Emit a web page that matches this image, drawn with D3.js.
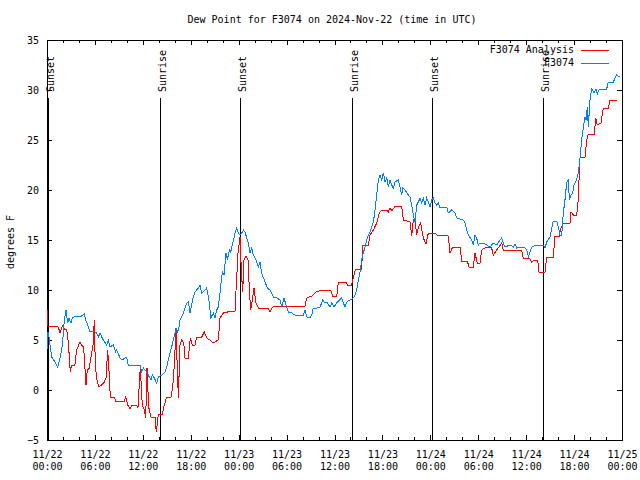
<!DOCTYPE html>
<html><head><meta charset="utf-8">
<script src="https://cdn.jsdelivr.net/npm/d3@7"></script>
<style>
body{margin:0;background:#fff}
svg{display:block}
text{font-family:"DejaVu Sans Mono",monospace;font-size:10px;fill:#000}
</style>
</head><body>
<svg id="c" width="640" height="480"></svg>
<script>
// ---------- data ----------
const titleText = "Dew Point for F3074 on 2024-Nov-22 (time in UTC)";
const yLabelText = "degrees F";
const startTime = "2024-11-22T00:00:00Z";
const endTime = "2024-11-25T00:00:00Z";
const yTickValues = [-5, 0, 5, 10, 15, 20, 25, 30, 35];
const seriesNames = ["F3074 Analysis", "F3074"];

// [hours since 2024-11-22 00:00 UTC, dew point °F]
const analysisData = [
[0,8.0],[0.08,6.4],[1.42,6.3],[1.63,5.7],[1.92,6.4],[2.17,6.1],[2.46,6.1],[2.67,4.8],[2.92,1.8],[3.09,2.5],
[3.5,2.5],[3.71,4.0],[3.92,4.4],[4.13,4.8],[4.34,4.5],[4.59,4.3],[4.88,0.5],[5.05,2.0],[5.3,2.2],[5.51,3.3],
[5.76,4.5],[5.93,7.0],[6.05,2.3],[6.26,1.0],[6.51,0.3],[6.85,0.5],[7.18,0.8],[7.39,1.2],[7.6,4.0],[7.76,2.0],
[7.93,-0.7],[8.43,-0.7],[8.6,-1.1],[9.68,-1.1],[9.85,-0.7],[10.1,-1.5],[10.39,-1.9],[10.68,-1.5],[11.23,-1.5],[11.39,-1.8],
[11.68,2.3],[11.93,-1.5],[12.15,-1.9],[12.36,-2.8],[12.52,2.2],[12.73,-1.7],[13.02,-2.7],[13.52,-2.7],[13.69,-4.2],[13.94,-2.4],
[14.44,-2.4],[14.69,-1.5],[14.99,-0.7],[15.53,-0.7],[15.74,0.3],[15.94,2.5],[16.15,6.0],[16.32,2.0],[16.45,-0.8],[16.65,4.5],
[16.87,5.0],[17.12,4.7],[17.28,3.2],[17.7,3.2],[17.95,5.2],[18.2,4.5],[18.53,4.5],[18.74,5.3],[19.37,5.3],[19.7,5.8],
[20.0,5.2],[20.41,5.0],[20.83,4.7],[21.45,5.0],[21.66,7.2],[22.08,7.7],[23.12,7.9],[23.54,7.9],[23.67,10.0],[23.92,13.7],
[24.17,15.3],[24.33,12.0],[24.5,9.8],[24.67,13.0],[24.92,13.4],[25.17,13.0],[25.34,10.0],[25.5,8.0],[25.71,9.0],[25.92,10.2],
[26.17,8.7],[26.46,8.2],[27.71,8.2],[27.92,7.8],[28.26,8.3],[28.76,8.4],[32.31,8.4],[32.52,9.2],[33.15,9.4],[33.68,9.8],
[34.52,10.0],[35.52,10.0],[35.77,9.4],[36.28,9.4],[36.48,10.8],[37.44,10.8],[37.6,10.5],[38.15,10.5],[38.36,11.3],[38.65,12.1],
[39.4,12.1],[39.53,14.5],[40.24,14.5],[40.45,15.5],[40.87,16.0],[41.28,16.7],[41.62,17.7],[41.91,18.0],[42.54,18.0],[42.74,17.8],
[42.95,18.2],[43.2,17.9],[43.58,18.4],[44.41,18.4],[44.62,17.0],[45.45,16.8],[45.67,15.4],[45.87,17.0],[46.12,16.8],[46.29,15.5],
[46.5,16.3],[46.79,16.7],[47.12,15.2],[47.46,14.6],[47.75,15.7],[48.59,15.7],[48.8,15.5],[50.25,15.4],[50.46,13.7],[50.8,14.3],
[51.72,14.3],[51.93,12.9],[52.63,12.9],[52.84,12.3],[53.38,12.3],[53.59,13.7],[53.88,12.7],[54.22,12.7],[54.43,14.0],[55.06,14.3],
[55.68,14.2],[55.89,13.5],[56.31,14.0],[56.94,14.7],[57.14,13.9],[57.56,14.0],[59.44,13.9],[59.64,13.2],[60.39,13.2],[60.69,12.8],
[60.98,13.0],[61.44,13.0],[61.61,11.8],[62.36,11.8],[62.57,13.3],[63.4,13.3],[63.61,15.4],[64.15,15.4],[64.32,16.1],[64.65,16.7],
[65.49,16.7],[65.62,17.8],[65.91,17.5],[66.33,17.5],[66.49,18.7],[66.74,23.2],[67.37,23.3],[67.58,25.0],[67.78,25.6],[68.53,25.6],
[68.71,27.2],[68.91,26.5],[69.37,26.7],[69.66,28.2],[70.29,28.2],[70.5,29.0],[71.34,29.0]
];

const stationData = [
[0,4.0],[0.05,5.8],[0.17,5.8],[0.58,3.3],[1.0,2.8],[1.34,2.3],[1.63,3.2],[1.84,4.0],[2.05,5.7],[2.17,7.0],
[2.38,8.0],[2.59,6.7],[2.75,7.2],[3.0,6.7],[3.17,7.2],[3.42,7.3],[3.92,7.4],[4.34,7.4],[4.67,7.6],[4.84,7.0],
[5.09,6.5],[5.38,5.8],[5.8,5.9],[6.22,5.7],[6.43,5.3],[6.64,5.7],[6.85,5.3],[7.05,5.0],[7.47,4.5],[7.68,5.0],
[7.89,4.3],[8.3,4.5],[8.6,3.8],[8.73,4.0],[9.14,3.2],[9.43,3.0],[9.77,3.2],[9.98,3.3],[10.18,2.5],[10.81,2.4],
[11.65,2.5],[11.86,1.8],[12.06,2.2],[12.48,1.8],[12.68,1.5],[13.02,1.0],[13.19,1.5],[13.44,1.2],[13.73,0.7],[13.94,1.3],
[14.44,1.5],[14.78,1.8],[14.99,2.3],[15.19,3.0],[15.4,3.7],[15.61,4.3],[15.82,5.0],[16.03,5.7],[16.15,6.2],[16.36,5.8],
[16.53,6.3],[16.65,7.0],[17.07,7.7],[17.28,8.2],[17.49,8.7],[17.7,8.8],[17.91,7.7],[18.12,8.5],[18.32,9.3],[18.53,9.8],
[18.95,10.2],[19.16,10.5],[19.37,9.7],[19.79,10.0],[20.0,10.2],[20.33,8.7],[20.5,7.2],[20.83,7.7],[21.04,7.2],[21.25,8.0],
[21.45,8.3],[21.66,9.7],[21.87,11.3],[21.99,11.8],[22.16,11.5],[22.41,13.7],[22.58,13.0],[22.83,14.0],[23.0,13.8],[23.25,14.7],
[23.42,15.2],[23.54,15.7],[23.75,16.2],[23.96,15.7],[24.17,15.5],[24.38,15.7],[24.59,16.0],[24.8,15.8],[25.01,15.2],[25.21,14.7],
[25.42,13.7],[25.63,14.2],[25.84,13.5],[26.17,13.0],[26.46,12.3],[26.67,12.8],[26.88,11.7],[27.3,10.8],[27.59,10.2],[27.92,10.0],
[28.34,9.3],[28.76,9.2],[29.18,9.0],[29.39,8.3],[29.68,9.2],[29.93,8.5],[30.22,7.8],[30.64,7.7],[31.05,7.5],[32.1,7.5],
[32.31,8.0],[32.52,7.3],[32.93,7.2],[33.15,7.5],[33.35,8.2],[33.77,8.2],[34.19,8.3],[34.52,9.0],[34.81,8.7],[35.02,8.8],
[35.44,8.3],[35.65,8.7],[35.94,8.3],[36.28,8.7],[36.61,9.0],[36.9,9.2],[37.11,8.7],[37.32,8.3],[37.53,8.8],[37.94,9.0],
[38.36,9.2],[38.57,9.5],[38.78,10.0],[38.98,11.0],[39.19,11.8],[39.4,13.0],[39.61,13.7],[39.82,14.3],[40.03,15.0],[40.24,15.5],
[40.45,15.8],[40.66,16.3],[40.87,16.8],[41.08,18.0],[41.28,19.5],[41.49,21.0],[41.7,21.5],[41.91,21.0],[42.12,21.7],[42.33,20.8],
[42.54,21.2],[42.74,20.3],[42.95,21.0],[43.16,20.5],[43.37,20.2],[43.58,20.8],[43.99,21.0],[44.2,20.3],[44.41,19.5],[44.54,20.2],
[44.83,20.0],[45.24,19.5],[45.45,19.3],[45.67,18.5],[45.87,17.5],[46.08,16.8],[46.29,18.5],[46.5,18.8],[46.71,19.2],[46.92,18.7],
[47.12,19.2],[47.33,18.5],[47.54,19.2],[47.75,18.8],[47.96,18.3],[48.17,19.0],[48.38,19.2],[48.59,18.7],[48.8,18.5],[49.0,18.7],
[49.21,18.2],[50.05,18.3],[50.25,17.7],[50.67,18.0],[51.09,17.7],[51.3,17.2],[52.13,17.0],[52.34,16.7],[52.55,16.0],[52.76,15.5],
[53.17,15.0],[53.38,14.5],[53.59,15.5],[53.8,15.2],[54.01,14.5],[54.22,14.7],[54.64,14.7],[55.47,14.3],[55.89,14.7],[56.31,14.5],
[56.73,15.0],[56.94,15.2],[57.14,14.7],[57.35,14.3],[57.98,14.5],[58.4,14.3],[58.61,14.6],[58.82,14.2],[59.23,14.3],[59.86,14.2],
[60.07,14.0],[60.28,13.3],[60.69,14.3],[61.32,14.5],[62.15,14.5],[62.36,14.2],[62.57,14.8],[62.99,15.3],[63.2,16.2],[63.4,16.9],
[63.82,16.9],[64.03,16.3],[64.24,15.5],[64.45,15.5],[64.65,17.7],[64.86,19.0],[65.07,20.7],[65.28,21.0],[65.41,19.0],[65.58,19.5],
[65.83,19.7],[66.0,20.5],[66.25,20.9],[66.54,21.7],[66.74,23.2],[66.95,25.0],[67.16,26.3],[67.37,27.3],[67.49,27.0],[67.66,28.3],
[67.78,26.3],[67.99,29.0],[68.2,30.1],[68.49,29.7],[68.74,30.1],[68.91,29.6],[69.16,30.1],[69.46,30.1],[70.08,30.1],[70.29,30.8],
[70.92,30.8],[71.13,31.2],[71.34,31.5],[71.67,31.3]
];

const sunLabels = ["Sunset", "Sunrise", "Sunset", "Sunrise", "Sunset", "Sunrise"];
const sunTimes = ["2024-11-22T00:10:00Z", "2024-11-22T14:11:00Z", "2024-11-23T00:11:00Z",
                  "2024-11-23T14:10:00Z", "2024-11-24T00:09:00Z", "2024-11-24T14:10:00Z"];

// ---------- drawing ----------
const colors = ["#ff0000", "#0080ff"];
const M = {left: 47, right: 622, top: 40, bottom: 440};
const svg = d3.select("#c");
svg.append("rect").attr("width", 640).attr("height", 480).attr("fill", "#fff");

const t0 = new Date(startTime), t1 = new Date(endTime);
const toDate = h => new Date(t0.getTime() + h * 3600e3);
const x = d3.scaleUtc().domain([t0, t1]).range([M.left, M.right]);
const y = d3.scaleLinear().domain([-5, 35]).range([M.bottom, M.top]);

const crisp = v => Math.round(v) + 0.5;

// border (drawn first, data goes over it)
svg.append("rect").attr("x", M.left + 0.5).attr("y", M.top + 0.5)
  .attr("width", M.right - M.left).attr("height", M.bottom - M.top)
  .attr("fill", "none").attr("stroke", "#000").attr("shape-rendering", "crispEdges");

// axes (ticks pointing inward)
const fmtD = d3.utcFormat("%m/%d"), fmtH = d3.utcFormat("%H:%M");
const gx = svg.append("g").attr("transform", `translate(0,${M.bottom})`)
  .call(d3.axisBottom(x).ticks(d3.utcHour.every(6)).tickSize(-5).tickPadding(10).tickFormat(""));
gx.selectAll(".tick text").each(function(d) {
  const t = d3.select(this).attr("y", null).attr("dy", null);
  t.append("tspan").attr("x", 0).attr("y", 18).text(fmtD(d));
  t.append("tspan").attr("x", 0).attr("y", 30).text(fmtH(d));
});
svg.append("g").attr("transform", `translate(0,${M.bottom})`)
  .call(d3.axisBottom(x).ticks(d3.utcHour.every(2)).tickSize(-3).tickFormat(""));
svg.append("g").attr("transform", `translate(0,${M.top})`)
  .call(d3.axisTop(x).ticks(d3.utcHour.every(6)).tickSize(-5).tickFormat(""));
svg.append("g").attr("transform", `translate(0,${M.top})`)
  .call(d3.axisTop(x).ticks(d3.utcHour.every(2)).tickSize(-3).tickFormat(""));
const gy = svg.append("g").attr("transform", `translate(${M.left},0)`)
  .call(d3.axisLeft(y).tickValues(yTickValues).tickSize(-5).tickPadding(8).tickFormat(d3.format("d")));
svg.append("g").attr("transform", `translate(${M.right},0)`)
  .call(d3.axisRight(y).tickValues(yTickValues).tickSize(-5).tickFormat(""));

svg.selectAll(".domain").remove();
svg.selectAll(".tick line").attr("stroke", "#000").attr("shape-rendering", "crispEdges");
svg.selectAll(".tick text").attr("font-family", "DejaVu Sans Mono").attr("font-size", 10).attr("fill", "#000");
gy.selectAll(".tick text").attr("dy", "0.35em");

// sunrise / sunset markers
sunTimes.forEach((s, i) => {
  const xv = crisp(x(new Date(s)));
  svg.append("line").attr("x1", xv).attr("x2", xv).attr("y1", 98).attr("y2", M.bottom)
    .attr("stroke", "#000").attr("shape-rendering", "crispEdges");
  svg.append("text").attr("transform", `translate(${xv + 5},92) rotate(-90)`)
    .attr("text-anchor", "start").text(sunLabels[i]);
});

// series
const line = d3.line().x(d => x(toDate(d[0]))).y(d => y(d[1]));
[analysisData, stationData].forEach((data, i) => {
  svg.append("path").datum(data).attr("d", line).attr("fill", "none")
    .attr("stroke", colors[i]).attr("stroke-width", 1).attr("shape-rendering", "crispEdges");
});

// legend
seriesNames.forEach((n, i) => {
  const ly = 49.5 + i * 13;
  svg.append("text").attr("x", 574).attr("y", ly).attr("dy", "0.35em")
    .attr("text-anchor", "end").text(n);
  svg.append("line").attr("x1", 581).attr("x2", 609).attr("y1", Math.round(ly) + 0.5).attr("y2", Math.round(ly) + 0.5)
    .attr("stroke", colors[i]).attr("shape-rendering", "crispEdges");
});

// title & y label
svg.append("text").attr("x", 332).attr("y", 23).attr("text-anchor", "middle").text(titleText);
svg.append("text").attr("transform", "translate(14,242) rotate(-90)").attr("text-anchor", "middle").text(yLabelText);
</script>
</body></html>
